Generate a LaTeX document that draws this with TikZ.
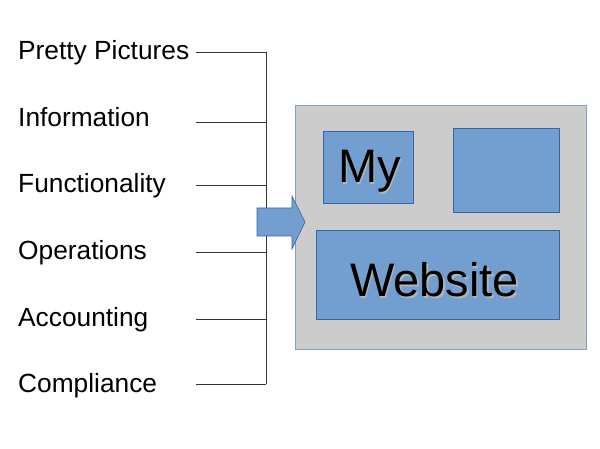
\documentclass[tikz,border=0pt]{standalone}
\usepackage{fontspec}
\setmainfont{Liberation Sans}
\definecolor{panelgray}{HTML}{CCCCCC}
\definecolor{paneledge}{HTML}{7F9FCF}
\definecolor{tileblue}{HTML}{729FCF}
\definecolor{tileedge}{HTML}{3465A4}
\definecolor{shade}{HTML}{B4B4B4}
\begin{document}
\begin{tikzpicture}[x=1pt, y=-1pt]
\tikzset{topic/.style={anchor=base west, inner sep=0pt, font=\fontsize{26.3}{30}\selectfont},
  tick/.style={draw=black!80, line width=0.8pt},
  panel/.style={draw=paneledge, fill=panelgray, line width=0.8pt, inner sep=0pt},
  tile/.style={draw=tileedge, fill=tileblue, line width=0.6pt, inner sep=0pt},
  big/.style={anchor=base west, inner sep=0pt, font=\fontsize{47}{52}\selectfont}}
\useasboundingbox (0,0) rectangle (600,449);
% topics
\node[topic] (T1) at (18,60) {Pretty Pictures};
\node[topic] (T2) at (18,127) {Information};
\node[topic] (T3) at (18,193) {Functionality};
\node[topic] (T4) at (18,260) {Operations};
\node[topic] (T5) at (18,326) {Accounting};
\node[topic] (T6) at (18,392) {Compliance};
\coordinate (A1) at (196,52);  \coordinate (B1) at (266,52);
\coordinate (A2) at (196,122); \coordinate (B2) at (266,122);
\coordinate (A3) at (196,185); \coordinate (B3) at (266,185);
\coordinate (A4) at (196,252); \coordinate (B4) at (266,252);
\coordinate (A5) at (196,319); \coordinate (B5) at (266,319);
\coordinate (A6) at (196,384); \coordinate (B6) at (266,384);
\draw[tick] (A1) -- (B1);
\draw[tick] (A2) -- (B2);
\draw[tick] (A3) -- (B3);
\draw[tick] (A4) -- (B4);
\draw[tick] (A5) -- (B5);
\draw[tick] (A6) -- (B6);
\draw[tick] (B1) -- (B6);
% website
\node[panel, minimum width=291pt, minimum height=244pt] (site) at (440.5,227) {};
\node[tile, minimum width=90pt, minimum height=72pt] (mybox) at (368,167) {};
\node[tile, minimum width=106pt, minimum height=84pt] (sidebox) at (506,170) {};
\node[tile, minimum width=243pt, minimum height=89pt] (webbox) at (437.5,274.5) {};
\node[big, text=shade] at (339.5,184.5) {My};
\node[big] (my) at (338,183) {My};
\node[big, text=shade] at (351.5,298.5) {Website};
\node[big] (web) at (350,297) {Website};
% arrow
\coordinate (tip) at (305,222);
\filldraw[draw=tileedge, fill=tileblue, line width=0.6pt]
  (257,208) -- (292,208) -- (292,196) -- (tip) -- (292,249)
  -- (292,236) -- (257,236) -- cycle;
\end{tikzpicture}
\end{document}
